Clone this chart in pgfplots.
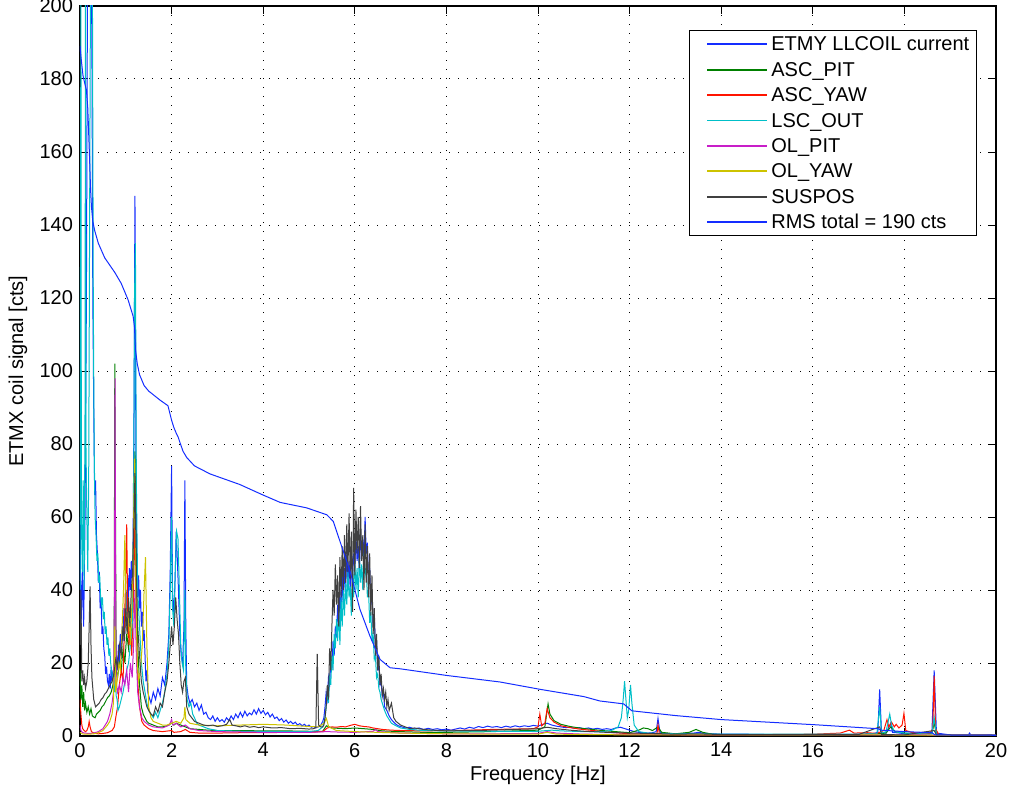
\documentclass[border=0pt]{standalone}
\usepackage{fontspec}
\setmainfont{Liberation Sans}
\usepackage{pgfplots}
\pgfplotsset{compat=1.18}
\usetikzlibrary{calc}
\definecolor{mblue}{RGB}{20,45,255}
\definecolor{mgreen}{RGB}{0,128,0}
\definecolor{mred}{RGB}{255,20,0}
\definecolor{mcyan}{RGB}{0,191,200}
\definecolor{mmag}{RGB}{200,30,200}
\definecolor{myel}{RGB}{205,195,0}
\definecolor{mgray}{RGB}{64,64,64}
\begin{document}
\begin{tikzpicture}
\begin{axis}[name=ax,
  scale only axis, width=458pt, height=365pt,
  xmin=0, xmax=20, ymin=0, ymax=200,
  xtick={0,2,...,20}, ytick={0,20,...,200},
  grid=major,
  major grid style={black, line width=0.5pt, dash pattern=on 0.5pt off 4pt},
  tick align=inside, major tick length=4pt,
  tick style={black, line width=0.5pt},
  axis line style={black, line width=0.6pt},
  /pgf/number format/assume math mode=true,
  ticklabel style={font=\fontsize{10}{12}\selectfont},
  every axis x label/.style={at={(axis description cs:0.5,-0.0534)}, anchor=center, font=\fontsize{10}{12}\selectfont},
  every axis y label/.style={at={(axis description cs:-0.0677,0.5)}, rotate=90, anchor=center, font=\fontsize{10}{12}\selectfont},
  xlabel={Frequency [Hz]}, ylabel={ETMX coil signal [cts]},
  every axis plot/.append style={line width=0.5pt},
  legend style={at={(axis description cs:0.9793,0.9671)}, anchor=north east, draw=black, line width=0.6pt, fill=white,
    font=\fontsize{10}{12}\selectfont, inner xsep=2pt, inner ysep=0.5pt, row sep=0pt,
    nodes={inner sep=1.6pt, text height=8pt, text depth=1.5pt}, cells={anchor=west}},
  legend image code/.code={\path[draw=none,fill=none] (-7pt,0pt) -- (30pt,0pt); \draw[#1, line width=0.9pt] (0pt,0pt) -- (30pt,0pt);},
  legend cell align=left,
]
% ETMY LLCOIL current
\addplot[color=mblue] coordinates {
(0.00,60)(0.02,28)(0.05,45)(0.08,30)(0.11,60)(0.14,120)(0.17,230)(0.20,210)(0.23,235)(0.26,190)(0.28,120)(0.30,90)(0.32,66)(0.34,70)(0.36,55)(0.38,50)(0.40,42)(0.42,45)(0.44,35)(0.46,38)(0.48,28)(0.50,30)(0.52,24)(0.54,22)(0.56,17)(0.58,19)(0.60,15)(0.62,14)(0.64,17)(0.66,13)(0.68,19)(0.70,15)(0.72,18)(0.74,14)(0.76,20)(0.78,16)(0.80,22)(0.82,18)(0.84,25)(0.86,20)(0.88,28)(0.90,23)(0.92,30)(0.94,26)(0.96,35)(0.98,28)(1.00,40)(1.02,33)(1.04,44)(1.06,38)(1.08,46)(1.10,40)(1.12,48)(1.14,42)(1.16,55)(1.18,90)(1.20,148)(1.22,80)(1.24,42)(1.26,38)(1.28,44)(1.30,35)(1.32,40)(1.34,30)(1.36,34)(1.38,26)(1.40,29)(1.42,22)(1.44,15)(1.46,18)(1.48,12)(1.50,11)(1.55,9)(1.60,12)(1.65,10)(1.70,13)(1.75,11)(1.80,16)(1.85,14)(1.90,20)(1.94,28)(1.97,45)(2.00,74)(2.02,40)(2.05,32)(2.08,45)(2.10,56)(2.12,50)(2.15,40)(2.18,28)(2.21,22)(2.24,20)(2.27,30)(2.29,70)(2.31,30)(2.33,14)(2.36,11)(2.40,9)(2.45,10)(2.50,8)(2.55,9)(2.60,7)(2.65,8.5)(2.70,6)(2.75,6.5)(2.80,5)(2.85,4.5)(2.90,5.5)(2.95,4)(3.00,5)(3.05,4)(3.10,4.5)(3.15,3.8)(3.20,5)(3.25,4.2)(3.30,5.5)(3.35,4.5)(3.40,6)(3.45,5)(3.50,6.5)(3.55,5.2)(3.60,6.8)(3.65,5.5)(3.70,6.3)(3.75,5.8)(3.80,7.2)(3.85,6)(3.90,7.5)(3.95,6.2)(4.00,7)(4.05,5.8)(4.10,6.5)(4.15,5.2)(4.20,6)(4.25,4.8)(4.30,5.2)(4.35,4.2)(4.40,4.8)(4.45,3.8)(4.50,4.4)(4.55,3.5)(4.60,4)(4.65,3.3)(4.70,3.8)(4.75,3)(4.80,3.4)(4.85,2.8)(4.90,3.2)(4.95,2.6)(5.00,3)(5.05,2.4)(5.10,2.6)(5.15,2.2)(5.20,2.5)(5.25,2.8)(5.30,4)
(5.325,5)(5.35,8)(5.375,12)(5.40,10)(5.425,16)(5.45,14)(5.475,20)(5.50,18)(5.525,26)(5.55,22)(5.575,30)(5.60,27)(5.625,36)(5.65,30)(5.675,40)(5.70,33)(5.725,44)(5.75,36)(5.775,46)(5.80,40)(5.825,50)(5.85,42)(5.875,48)(5.90,40)(5.925,52)(5.95,44)(5.975,50)(6.00,46)(6.025,55)(6.05,48)(6.075,52)(6.10,45)(6.125,56)(6.15,50)(6.175,54)(6.20,48)(6.225,60)(6.25,50)(6.275,53)(6.30,42)(6.325,46)(6.35,36)(6.375,40)(6.40,30)(6.425,33)(6.45,24)(6.475,26)(6.50,18)(6.525,20)(6.55,14)(6.575,15)(6.60,11)(6.625,12)(6.65,8)(6.70,7)(6.75,5.5)(6.80,4.5)(6.85,3.8)(6.90,3.2)(6.95,2.8)(7.00,2.6)
(7.10,2.2)(7.20,2.4)(7.30,1.9)(7.40,2.2)(7.50,1.8)(7.60,2.1)(7.70,1.8)(7.80,2.0)(7.90,1.7)(8.00,1.9)(8.10,1.6)(8.20,1.9)(8.30,2.2)(8.40,1.9)(8.50,2.4)(8.60,2.1)(8.70,2.6)(8.80,2.3)(8.90,2.7)(9.00,2.4)(9.10,2.6)(9.20,2.3)(9.30,2.7)(9.40,2.4)(9.50,2.8)(9.60,2.5)(9.70,2.8)(9.80,2.6)(9.90,2.9)(10.00,2.7)(10.10,3.2)(10.20,3.5)(10.30,3.0)(10.40,2.7)(10.50,2.5)(10.60,2.3)(10.70,2.4)(10.80,2.1)(10.90,2.3)(11.00,2.0)(11.10,2.2)(11.20,1.9)(11.30,2.1)(11.40,1.8)(11.50,2.0)(11.60,1.8)(11.70,2.2)(11.80,2.4)(11.90,2.0)(12.00,1.6)(12.10,1.2)(12.20,1.0)(12.30,0.9)(12.40,0.8)(12.50,0.9)(12.58,1.2)(12.62,4.8)(12.66,1.2)(12.70,0.8)(12.80,0.7)(13.00,0.6)(13.20,0.7)(13.40,0.8)(13.50,1.0)(13.60,0.8)(13.80,0.6)(14.00,0.5)(14.50,0.5)(15.00,0.4)(15.50,0.4)(16.00,0.4)(16.50,0.4)(17.00,0.5)(17.30,0.6)(17.42,1.0)(17.46,12.8)(17.50,1.0)(17.60,0.8)(17.70,3.5)(17.74,1.0)(17.90,0.8)(18.00,0.6)(18.30,0.5)(18.60,0.8)(18.65,18)(18.70,0.8)(19.00,0.3)(19.40,0.3)(19.42,0.8)(19.45,0.3)(20.00,0.3)
};
\addlegendentry{ETMY LLCOIL current}
% ASC_PIT
\addplot[color=mgreen] coordinates {
(0.00,18)(0.02,10)(0.04,14)(0.06,8)(0.08,12)(0.10,7)(0.12,9)(0.15,6.5)(0.18,8)(0.21,6)(0.24,7.5)(0.27,5.5)(0.30,5.2)(0.33,5)(0.36,6)(0.40,6.5)(0.44,7)(0.48,8)(0.52,8.5)(0.56,9.5)(0.60,10.5)(0.64,11)(0.68,12)(0.72,14)(0.745,20)(0.76,102)(0.775,60)(0.79,18)(0.82,16)(0.86,20)(0.90,18)(0.94,24)(0.98,20)(1.02,28)(1.06,24)(1.10,30)(1.14,28)(1.17,45)(1.20,78)(1.23,40)(1.26,25)(1.30,14)(1.34,8)(1.38,6)(1.42,5)(1.46,4)(1.50,3.5)(1.60,3)(1.70,2.5)(1.80,2.5)(1.90,2.8)(2.00,3.5)(2.05,3)(2.10,3.5)(2.20,3)(2.30,2.5)(2.40,2)(2.60,1.8)(2.80,1.6)(3.00,1.5)(3.50,1.5)(4.00,1.4)(4.50,1.4)(5.00,1.3)(5.30,1.3)(5.38,2.8)(5.50,2.2)(5.80,2.0)(6.00,2.2)(6.20,2.0)(6.40,1.8)(6.60,1.4)(7.00,1.2)(7.50,1.0)(8.00,1.0)(8.50,1.1)(9.00,1.2)(9.50,1.4)(10.00,1.6)(10.15,2.5)(10.22,8.8)(10.26,6)(10.35,4.2)(10.50,3.2)(10.70,2.6)(10.90,2.2)(11.10,1.9)(11.40,1.5)(11.70,1.2)(12.00,0.9)(12.20,1.6)(12.30,2.2)(12.40,2.0)(12.50,1.5)(12.62,2.5)(12.70,1.0)(13.00,0.6)(13.30,1.0)(13.45,1.8)(13.60,1.0)(13.80,0.5)(14.00,0.4)(15.00,0.3)(16.00,0.3)(17.00,0.4)(17.40,0.6)(17.60,0.8)(17.70,2.5)(17.80,1.2)(18.00,0.8)(18.20,0.6)(18.60,0.8)(18.65,3.5)(18.70,0.5)(19.00,0.2)(20.00,0.2)
};
\addlegendentry{ASC\_PIT}
% ASC_YAW
\addplot[color=mred] coordinates {
(0.00,10)(0.02,6)(0.04,3)(0.06,2)(0.09,1.5)(0.12,1.2)(0.15,1.5)(0.18,2.5)(0.20,4)(0.22,2.5)(0.25,1.2)(0.30,0.8)(0.40,0.6)(0.50,0.7)(0.60,0.9)(0.70,1.5)(0.75,2.5)(0.78,5)(0.82,8)(0.86,14)(0.90,18)(0.94,15)(0.97,30)(1.00,45)(1.02,58)(1.04,35)(1.07,25)(1.10,30)(1.13,22)(1.16,35)(1.20,60)(1.23,30)(1.26,15)(1.30,8)(1.35,4)(1.40,3)(1.50,2)(1.60,1.5)(1.80,1.2)(2.00,1.5)(2.05,1.0)(2.20,1.2)(2.30,1.8)(2.40,1.0)(2.60,0.8)(3.00,0.8)(3.50,0.9)(4.00,0.9)(4.50,1.0)(5.00,1.0)(5.30,1.2)(5.40,2.2)(5.50,2.5)(5.60,2.4)(5.70,2.6)(5.80,2.5)(5.90,2.9)(6.00,3.2)(6.10,2.8)(6.20,2.6)(6.30,2.5)(6.40,2.2)(6.50,2.0)(6.60,1.8)(6.80,1.6)(7.00,1.5)(7.50,1.4)(8.00,1.5)(8.50,1.6)(9.00,1.8)(9.50,1.9)(9.90,2.0)(10.00,2.5)(10.04,6)(10.08,2.8)(10.15,3.5)(10.20,7.5)(10.26,5)(10.35,3.8)(10.50,2.8)(10.70,2.3)(10.90,1.9)(11.20,1.5)(11.50,1.1)(11.80,0.8)(12.00,0.6)(12.50,0.5)(12.60,0.8)(12.62,3)(12.65,0.6)(13.00,0.4)(14.00,0.4)(15.00,0.4)(16.00,0.5)(16.60,0.8)(16.80,1.6)(16.90,0.8)(17.20,0.9)(17.40,0.7)(17.55,1.5)(17.62,4.5)(17.66,2.5)(17.72,3.8)(17.78,2.5)(17.82,3.2)(17.88,2.2)(17.95,3)(17.99,6.2)(18.03,1.5)(18.15,1.0)(18.30,0.8)(18.55,0.6)(18.62,2)(18.65,16.5)(18.68,2)(18.75,0.4)(19.00,0.2)(20.00,0.2)
};
\addlegendentry{ASC\_YAW}
% LSC_OUT
\addplot[color=mcyan] coordinates {
(0.00,40)(0.01,120)(0.02,210)(0.03,60)(0.05,45)(0.07,70)(0.09,40)(0.11,90)(0.12,210)(0.13,80)(0.15,60)(0.17,45)(0.19,70)(0.21,140)(0.23,210)(0.25,210)(0.27,210)(0.29,120)(0.31,78)(0.33,60)(0.35,55)(0.37,48)(0.39,50)(0.41,42)(0.43,44)(0.45,38)(0.47,36)(0.49,38)(0.51,32)(0.53,34)(0.55,28)(0.57,30)(0.59,25)(0.61,27)(0.63,22)(0.65,24)(0.67,20)(0.69,18)(0.71,16)(0.73,14)(0.75,12)(0.77,16)(0.79,11)(0.81,10)(0.83,7)(0.86,8)(0.90,10)(0.94,12)(0.98,15)(1.02,18)(1.06,20)(1.10,25)(1.14,30)(1.17,60)(1.19,120)(1.21,135)(1.23,70)(1.26,40)(1.30,30)(1.34,20)(1.38,15)(1.42,12)(1.46,9)(1.50,7)(1.55,6)(1.60,5)(1.65,6.5)(1.70,5)(1.75,7)(1.80,9)(1.85,12)(1.90,17)(1.94,25)(1.97,40)(2.00,60)(2.02,35)(2.05,30)(2.08,45)(2.11,56)(2.14,54)(2.17,40)(2.20,25)(2.23,20)(2.26,18)(2.29,40)(2.31,18)(2.34,10)(2.38,8)(2.42,9)(2.46,6)(2.50,5)(2.55,3.5)(2.60,3)(2.70,2.5)(2.80,2)(3.00,1.5)(3.50,1.3)(4.00,1.3)(4.50,1.2)(5.00,1.2)(5.20,1.5)(5.30,2.5)(5.35,5)
(5.375,8)(5.40,12)(5.425,9)(5.45,16)(5.475,14)(5.50,22)(5.525,18)(5.55,28)(5.575,24)(5.60,32)(5.625,26)(5.65,35)(5.675,25)(5.70,38)(5.725,30)(5.75,40)(5.775,33)(5.80,42)(5.825,36)(5.85,45)(5.875,38)(5.90,41)(5.925,33)(5.95,46)(5.975,38)(6.00,48)(6.025,40)(6.05,46)(6.075,38)(6.10,50)(6.125,42)(6.15,47)(6.175,40)(6.20,50)(6.225,44)(6.25,46)(6.275,38)(6.30,40)(6.325,31)(6.35,34)(6.375,26)(6.40,28)(6.425,21)(6.45,22)(6.475,16)(6.50,17)(6.525,13)(6.55,12)(6.575,10)(6.60,9)(6.65,7)(6.70,5.5)(6.75,4.5)(6.80,3.5)(6.90,2.8)(7.00,2.2)
(7.20,1.8)(7.50,1.5)(8.00,1.4)(9.00,1.3)(10.00,1.3)(10.30,1.6)(10.50,1.4)(11.00,1.2)(11.40,1.2)(11.60,1.5)(11.75,2.5)(11.82,5)(11.86,10)(11.89,15)(11.92,10)(11.95,5)(11.98,7)(12.02,14)(12.05,9)(12.10,3)(12.20,1.2)(12.40,0.8)(13.00,0.6)(14.00,0.5)(16.00,0.5)(17.00,0.5)(17.40,0.6)(17.46,8)(17.50,0.8)(17.60,1.2)(17.68,6)(17.72,3)(17.78,1.2)(18.00,0.8)(18.60,0.5)(18.65,5)(18.70,0.4)(19.00,0.2)(20.00,0.2)
};
\addlegendentry{LSC\_OUT}
% OL_PIT
\addplot[color=mmag] coordinates {
(0.00,3)(0.02,1.5)(0.05,1)(0.10,0.8)(0.20,0.7)(0.30,0.8)(0.40,1.2)(0.50,2)(0.60,4)(0.65,6)(0.70,9)(0.73,12)(0.755,40)(0.765,98)(0.775,50)(0.79,15)(0.82,12)(0.86,14)(0.90,12)(0.94,16)(0.98,14)(1.02,18)(1.06,12)(1.10,20)(1.14,16)(1.17,25)(1.20,40)(1.23,22)(1.26,12)(1.30,8)(1.35,5)(1.40,4)(1.50,3)(1.60,2.5)(1.80,2.2)(1.95,3)(2.00,4.5)(2.03,3)(2.10,3.5)(2.20,2.5)(2.30,3)(2.40,2)(2.60,1.5)(3.00,1.2)(3.50,1.1)(4.00,1.0)(4.50,1.0)(5.00,1.0)(5.40,1.2)(5.60,1.1)(6.00,1.0)(6.40,1.3)(6.45,1.8)(6.50,1.2)(7.00,0.8)(8.00,0.6)(9.00,0.6)(10.00,0.7)(10.20,1.2)(10.40,0.8)(11.00,0.5)(12.00,0.4)(14.00,0.3)(17.00,0.3)(18.00,0.3)(20.00,0.2)
};
\addlegendentry{OL\_PIT}
% OL_YAW
\addplot[color=myel] coordinates {
(0.00,1)(0.05,0.6)(0.10,0.5)(0.20,0.5)(0.30,0.6)(0.40,0.9)(0.50,1.5)(0.60,3)(0.65,4)(0.70,6)(0.73,9)(0.76,30)(0.78,12)(0.81,15)(0.85,20)(0.88,18)(0.92,30)(0.95,40)(0.98,55)(1.01,30)(1.04,28)(1.07,35)(1.10,25)(1.13,35)(1.16,50)(1.19,76)(1.22,40)(1.25,20)(1.28,15)(1.32,18)(1.36,25)(1.40,40)(1.43,49)(1.46,25)(1.50,8)(1.55,5)(1.60,4)(1.70,3.5)(1.80,3)(1.90,3)(2.00,3.5)(2.10,4)(2.20,3.5)(2.27,5)(2.29,8)(2.31,4.5)(2.40,3.5)(2.60,3)(3.00,2.8)(3.50,3)(4.00,3.2)(4.50,3)(5.00,2.6)(5.20,2.5)(5.33,3.5)(5.38,4.8)(5.43,2.5)(5.60,1.5)(6.00,1.2)(6.50,1.0)(7.00,0.8)(8.00,0.6)(9.00,0.5)(10.00,0.5)(10.20,1.0)(10.40,0.5)(12.00,0.3)(14.00,0.3)(17.00,0.3)(20.00,0.2)
};
\addlegendentry{OL\_YAW}
% SUSPOS
\addplot[color=mgray] coordinates {
(0.00,25)(0.02,40)(0.04,15)(0.06,18)(0.08,14)(0.10,16)(0.12,13)(0.15,15)(0.18,20)(0.20,30)(0.22,41)(0.24,25)(0.26,16)(0.30,10)(0.34,8)(0.38,8.5)(0.42,9)(0.46,10)(0.50,10.5)(0.54,11.5)(0.58,12)(0.62,13)(0.66,14)(0.70,15)(0.74,17)(0.78,21)(0.82,19)(0.86,25)(0.90,22)(0.94,30)(0.97,26)(1.00,35)(1.03,28)(1.06,38)(1.09,30)(1.12,40)(1.15,45)(1.18,60)(1.20,72)(1.23,45)(1.26,30)(1.30,22)(1.34,15)(1.38,12)(1.42,10)(1.46,8)(1.50,7)(1.55,6)(1.60,5.5)(1.65,8)(1.70,6.5)(1.75,9)(1.80,8)(1.85,12)(1.90,15)(1.94,20)(1.97,25)(2.00,30)(2.03,25)(2.06,30)(2.09,38)(2.12,32)(2.15,28)(2.18,20)(2.21,14)(2.24,12)(2.27,15)(2.30,16)(2.33,8)(2.38,6)(2.44,5)(2.50,4)(2.60,3.5)(2.70,3)(2.80,2.8)(2.90,3)(3.00,2.6)(3.10,2.8)(3.20,3.2)(3.27,4.5)(3.32,3)(3.40,2.8)(3.50,2.5)(3.60,2.8)(3.70,2.4)(3.80,2.6)(3.90,2.3)(4.00,2.5)(4.20,2.2)(4.40,2.3)(4.60,2.0)(4.80,2.1)(5.00,1.9)(5.10,2.0)(5.15,2.3)(5.18,22.5)(5.21,3)(5.25,2.5)
(5.300,2.5)(5.325,3)(5.350,5)(5.375,8)(5.400,14)(5.425,10)(5.450,24)(5.475,18)(5.500,30)(5.525,40)(5.550,33)(5.575,47)(5.600,36)(5.625,44)(5.650,30)(5.675,49)(5.700,38)(5.725,52)(5.750,40)(5.775,55)(5.800,42)(5.825,58)(5.850,45)(5.875,61)(5.900,43)(5.925,56)(5.950,34)(5.975,68)(6.000,44)(6.025,62)(6.050,50)(6.075,60)(6.100,46)(6.125,63)(6.150,48)(6.175,55)(6.200,40)(6.225,58)(6.250,42)(6.275,52)(6.300,38)(6.325,50)(6.350,33)(6.375,44)(6.400,28)(6.425,35)(6.450,22)(6.475,28)(6.500,18)(6.525,22)(6.550,14)(6.575,17)(6.600,11)(6.625,13)(6.650,10)(6.675,12)(6.700,8)(6.725,10)(6.750,7)(6.800,9)(6.850,5)(6.900,4)(6.950,3.5)(7.000,3)(7.100,2.5)(7.200,2)
(7.30,2.2)(7.50,1.8)(7.70,1.6)(8.00,1.4)(8.50,1.5)(9.00,1.6)(9.50,1.8)(10.00,2.0)(10.20,2.4)(10.40,2.0)(10.70,1.6)(11.00,1.3)(11.50,1.0)(12.00,0.8)(12.50,0.7)(13.00,0.5)(13.50,0.6)(14.00,0.4)(15.00,0.4)(16.00,0.4)(17.00,0.4)(17.46,2.5)(17.50,0.4)(18.00,0.3)(18.65,1.5)(18.70,0.3)(20.00,0.2)
};
\addlegendentry{SUSPOS}
% RMS
\addplot[color=mblue] coordinates {
(0.00,189)(0.03,185)(0.065,181)(0.10,179)(0.14,177)(0.17,172)(0.19,165)(0.21,158)(0.23,150)(0.25,145)(0.28,141)(0.32,138.5)(0.40,135)(0.54,131)(0.65,129)(0.76,127)(0.90,124)(1.05,119.5)(1.16,115)(1.19,112)(1.21,106)(1.25,102)(1.30,99)(1.40,96)(1.50,94.5)(1.75,92)(1.92,90.5)(1.97,88)(2.00,86.5)(2.05,84.5)(2.10,83)(2.14,82)(2.18,80.5)(2.25,78)(2.33,76.3)(2.50,74)(2.84,71.8)(3.49,68.9)(4.00,66)(4.37,64)(4.95,62.5)(5.39,60.6)(5.53,58.8)(5.68,53.2)(5.90,45)(6.11,34.8)(6.33,27.4)(6.55,21)(6.77,18.7)(7.00,18.4)(7.50,17.5)(8.00,16.6)(9.17,14.8)(10.04,12.8)(11.00,10.8)(11.35,9.6)(11.87,8.8)(12.05,6.9)(13.00,5.6)(14.00,4.5)(16.03,3.1)(17.42,2.0)(17.49,1.6)(18.00,1.2)(18.60,0.9)(18.67,0.3)(20.00,0.2)
};
\addlegendentry{RMS total = 190 cts}
\end{axis}
\pgfresetboundingbox
\path ($(ax.south west)+(-40pt,-29pt)$) rectangle ($(ax.north east)+(8.5pt,3pt)$);
\end{tikzpicture}
\end{document}
